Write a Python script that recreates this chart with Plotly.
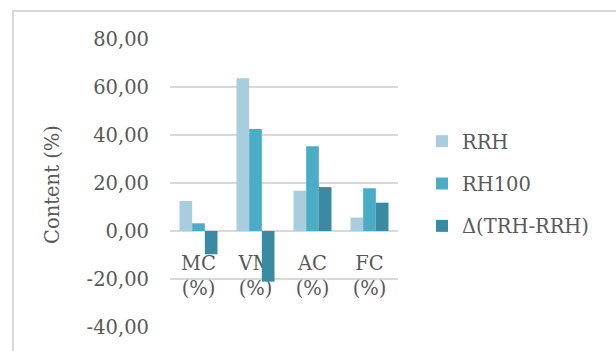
import plotly.graph_objects as go

# Proximate analysis of the hydrochars
categories = ["MC (%)", "VM (%)", "AC (%)", "FC (%)"]
rrh = [12.5, 63.6, 16.8, 5.6]
rh100 = [3.2, 42.5, 35.3, 17.8]
delta = [-9.7, -21.1, 18.3, 11.8]

series_names = ["RRH", "RH100", "Δ(TRH-RRH)"]
series_colors = ["#A8CEDD", "#4BACC6", "#3A8BA2"]

y_ticks = [-40, -20, 0, 20, 40, 60, 80]
y_tick_text = ["-40,00", "-20,00", "0,00", "20,00", "40,00", "60,00", "80,00"]

FONT = "DejaVu Serif"
TEXT_COLOR = "#595959"
GRID_COLOR = "#D9D9D9"
FS = 19.5

W, H = 616, 351
ML, MR, MT, MB = 170, 218, 39, 24
plot_w = W - ML - MR
plot_h = H - MT - MB


def px_to_paper_x(px):
    return (px - ML) / plot_w


def px_to_paper_y(py):
    return (H - MB - py) / plot_h


fig = go.Figure()
for i, (name, vals, color) in enumerate(zip(series_names, [rrh, rh100, delta], series_colors)):
    fig.add_trace(go.Bar(
        x=categories, y=vals, name=name,
        marker=dict(color=color, line=dict(width=0)),
        legendgroup=f"g{i}",
    ))

y_min, y_max = -40, 80
fig.update_layout(
    width=W, height=H,
    margin=dict(l=ML, r=MR, t=MT, b=MB, pad=0),
    paper_bgcolor="white", plot_bgcolor="white",
    barmode="group", bargap=0.333, bargroupgap=0,
    font=dict(family=FONT, size=FS, color=TEXT_COLOR),
    showlegend=True,
    legend=dict(
        x=px_to_paper_x(422), y=px_to_paper_y(184),
        xanchor="left", yanchor="middle",
        traceorder="grouped", tracegroupgap=14,
        font=dict(family=FONT, size=FS, color=TEXT_COLOR),
        bgcolor="rgba(0,0,0,0)", borderwidth=0,
        itemwidth=30,
    ),
    xaxis=dict(
        type="category",
        tickmode="array", tickvals=categories,
        ticktext=[c.replace(" ", "<br>") for c in categories],
        anchor="free", position=(0 - y_min) / (y_max - y_min),
        showline=False, showgrid=False, zeroline=False,
        ticks="", ticklabelstandoff=18,
        layer="below traces",
        tickfont=dict(family=FONT, size=FS, color=TEXT_COLOR),
    ),
    yaxis=dict(
        range=[y_min, y_max],
        tickmode="array", tickvals=y_ticks, ticktext=y_tick_text,
        showgrid=True, gridcolor=GRID_COLOR, gridwidth=2,
        zeroline=True, zerolinecolor=GRID_COLOR, zerolinewidth=2,
        showline=False, ticks="", ticklabelstandoff=20,
        tickfont=dict(family=FONT, size=FS, color=TEXT_COLOR),
    ),
    annotations=[dict(
        text="Content (%)", textangle=-90,
        x=px_to_paper_x(52), y=px_to_paper_y(184),
        xref="paper", yref="paper", showarrow=False,
        xanchor="center", yanchor="middle",
        font=dict(family=FONT, size=FS, color=TEXT_COLOR),
    )],
    shapes=[dict(
        type="rect", xref="paper", yref="paper",
        x0=px_to_paper_x(13), x1=px_to_paper_x(630),
        y0=px_to_paper_y(370), y1=px_to_paper_y(11),
        line=dict(color=GRID_COLOR, width=2), fillcolor="rgba(0,0,0,0)",
        layer="below",
    )],
)

fig.write_html("out.html")
